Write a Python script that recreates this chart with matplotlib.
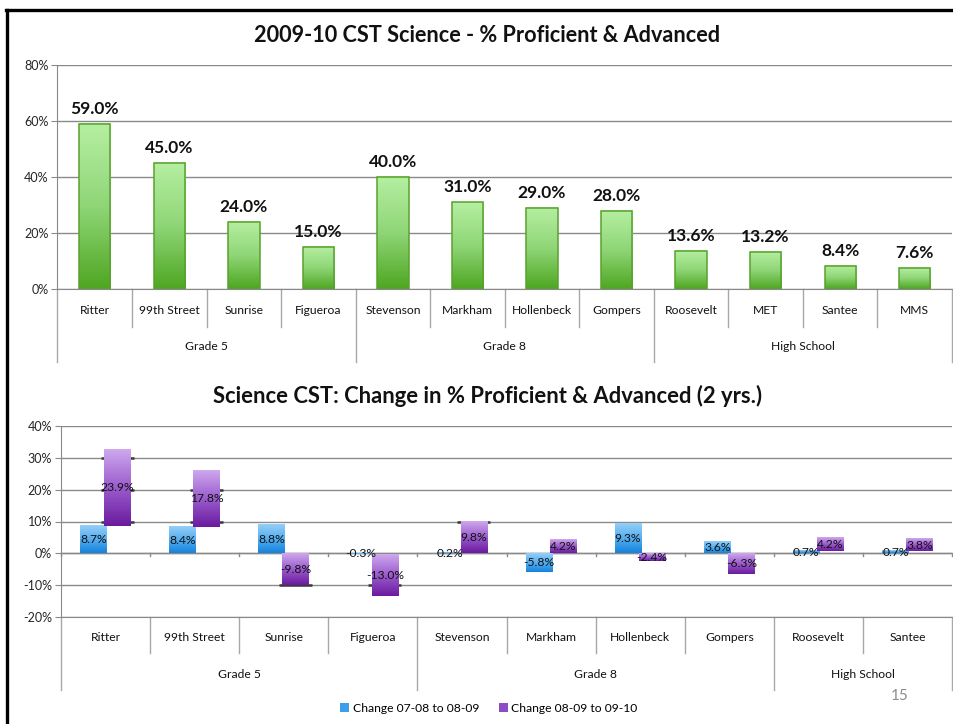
import numpy as np
import matplotlib
matplotlib.use('Agg')
import matplotlib.pyplot as plt
from matplotlib.colors import LinearSegmentedColormap
from matplotlib.lines import Line2D
from matplotlib.patches import Patch
from matplotlib.ticker import FuncFormatter, MultipleLocator

plt.rcParams['font.family'] = ['Lato', 'DejaVu Sans']

# ---------------- data ----------------
top_title = "2009-10 CST Science - % Proficient & Advanced"
top_schools = ['Ritter', '99th Street', 'Sunrise', 'Figueroa', 'Stevenson', 'Markham',
               'Hollenbeck', 'Gompers', 'Roosevelt', 'MET', 'Santee', 'MMS']
top_groups = ['Grade 5', 'Grade 8', 'High School']
top_group_sizes = [4, 4, 4]
top_values = [59.0, 45.0, 24.0, 15.0, 40.0, 31.0, 29.0, 28.0, 13.6, 13.2, 8.4, 7.6]

bot_title = "Science CST: Change in % Proficient & Advanced (2 yrs.)"
bot_schools = ['Ritter', '99th Street', 'Sunrise', 'Figueroa', 'Stevenson', 'Markham',
               'Hollenbeck', 'Gompers', 'Roosevelt', 'Santee']
bot_groups = ['Grade 5', 'Grade 8', 'High School']
bot_group_sizes = [4, 4, 2]
change_0708_0809 = [8.7, 8.4, 8.8, -0.3, 0.2, -5.8, 9.3, 3.6, 0.7, 0.7]
change_0809_0910 = [23.9, 17.8, -9.8, -13.0, 9.8, 4.2, -2.4, -6.3, 4.2, 3.8]
series_names = ['Change 07-08 to 08-09', 'Change 08-09 to 09-10']

# ---------------- style ----------------
GRID = '#8a8a8a'
SEP = '#a8a8a8'
green_cmap = LinearSegmentedColormap.from_list('g', ['#4ea621', '#8fd677', '#b6efa2'])
blue_cmap = LinearSegmentedColormap.from_list('b', ['#1483dc', '#55aef0', '#95cff8'])
purple_cmap = LinearSegmentedColormap.from_list('p', ['#6a1a9e', '#9a5ccc', '#cfa8ee'])

W, H = 954, 724
fig = plt.figure(figsize=(W / 100, H / 100), dpi=100)
fig.patch.set_facecolor('white')


def fx(px):
    return px / W


def fy(py):
    return 1 - py / H


def grad_fill(ax, bars, cmap, z):
    g = np.linspace(0, 1, 256).reshape(-1, 1)
    for b in bars:
        x0, y0 = b.get_x(), b.get_y()
        w, h = b.get_width(), b.get_height()
        if h == 0:
            continue
        lo, hi = min(y0, y0 + h), max(y0, y0 + h)
        ax.imshow(g, extent=[x0, x0 + w, lo, hi], origin='lower', cmap=cmap,
                  aspect='auto', zorder=z, interpolation='bilinear')


def category_axis(ax, names, group_names, group_sizes, cat_depth, grp_depth,
                  cat_label_y, grp_label_y, fs):
    n = len(names)
    tr = ax.get_xaxis_transform()
    bounds_grp = np.concatenate([[0], np.cumsum(group_sizes)])
    for k in range(n + 1):
        depth = grp_depth if k in bounds_grp else cat_depth
        ax.plot([k - 0.5, k - 0.5], [0, -depth], transform=tr, clip_on=False,
                color=SEP, lw=1)
    for i, nm in enumerate(names):
        ax.text(i, -cat_label_y, nm, transform=tr, ha='center', va='center',
                fontsize=fs, color='#111111')
    for g, nm in enumerate(group_names):
        c = (bounds_grp[g] + bounds_grp[g + 1]) / 2 - 0.5
        ax.text(c, -grp_label_y, nm, transform=tr, ha='center', va='center',
                fontsize=fs, color='#111111')


def style_axes(ax):
    for s in ['top', 'right']:
        ax.spines[s].set_visible(False)
    ax.spines['left'].set_color(GRID)
    ax.spines['bottom'].set_color(GRID)
    ax.set_xticks([])
    ax.yaxis.set_major_formatter(FuncFormatter(lambda v, p: f'{v:.0f}%'))
    ax.tick_params(axis='y', length=4, color=GRID, labelsize=9,
                   labelcolor='#262626', pad=2.5)
    ax.yaxis.grid(True, color=GRID, lw=1)
    ax.set_axisbelow(True)
    ax.patch.set_alpha(0)


# ---------------- top chart ----------------
ax1 = fig.add_axes([fx(57.5), fy(289.3), fx(952 - 57.5), (289.3 - 65) / H])
x1 = np.arange(len(top_schools))
bars1 = ax1.bar(x1, top_values, width=0.42, facecolor='none',
                edgecolor='#58a22e', lw=1.1, zorder=3)
grad_fill(ax1, bars1, green_cmap, 2.5)
for xi, v in zip(x1, top_values):
    ax1.annotate(f'{v:.1f}%', (xi, v), xytext=(0, 5), textcoords='offset points',
                 ha='center', va='bottom', fontsize=12.5, fontweight='bold',
                 color='#111111')
ax1.set_xlim(-0.5, len(top_schools) - 0.5)
ax1.set_ylim(0, 80)
ax1.yaxis.set_major_locator(MultipleLocator(20))
style_axes(ax1)
category_axis(ax1, top_schools, top_groups, top_group_sizes,
              cat_depth=(327 - 289.3) / 224.3, grp_depth=(362 - 289.3) / 224.3,
              cat_label_y=(311 - 289.3) / 224.3, grp_label_y=(347 - 289.3) / 224.3,
              fs=8.7)
fig.text(fx(487), fy(35), top_title, ha='center', va='center', fontsize=15.6,
         fontweight='bold', color='#111111')

# ---------------- bottom chart ----------------
ax2 = fig.add_axes([fx(61), fy(617.3), fx(952 - 61), (617.3 - 425.7) / H])
x2 = np.arange(len(bot_schools))
a = np.array(change_0708_0809)
b = np.array(change_0809_0910)
base_b = np.where(np.sign(a) == np.sign(b), a, 0.0)
off, bw = 0.135, 0.3
bars_a = ax2.bar(x2 - off, a, width=bw, facecolor='#4aa8ee', edgecolor='none', zorder=2)
bars_b = ax2.bar(x2 + off, b, width=bw, bottom=base_b, facecolor='#9a5ccc',
                 edgecolor='none', zorder=2)
for bar in list(bars_a) + list(bars_b):
    bar.set_alpha(0)
grad_fill(ax2, bars_a, blue_cmap, 2.6)
grad_fill(ax2, bars_b, purple_cmap, 2.7)

# dark gridline marks showing through at purple bar edges
for xi, lo_v, hi_v in zip(x2 + off, np.minimum(base_b, base_b + b), np.maximum(base_b, base_b + b)):
    for gv in range(-20, 41, 10):
        if gv != 0 and lo_v - 0.35 <= gv <= hi_v + 0.35:
            ax2.plot([xi - bw / 2 - 0.035, xi + bw / 2 + 0.035], [gv, gv],
                     color='#3a3a3a', lw=1.8, zorder=2.55, solid_capstyle='butt')

for xi, v in zip(x2 - off, a):
    ax2.text(xi, v / 2, f'{v:.1f}%', ha='center', va='center', fontsize=8.7,
             color='#111111', zorder=5)
for xi, v, bs in zip(x2 + off, b, base_b):
    ax2.text(xi, bs + v / 2, f'{v:.1f}%', ha='center', va='center', fontsize=8.7,
             color='#111111', zorder=5)

ax2.set_xlim(-0.5, len(bot_schools) - 0.5)
ax2.set_ylim(-20, 40)
ax2.yaxis.set_major_locator(MultipleLocator(10))
style_axes(ax2)
ax2.axhline(0, color=GRID, lw=1, zorder=1.5)
for k in range(len(bot_schools) + 1):
    ax2.plot([k - 0.5, k - 0.5], [0, -0.9], color=GRID, lw=1, zorder=1.5, clip_on=False)
category_axis(ax2, bot_schools, bot_groups, bot_group_sizes,
              cat_depth=(653 - 617.3) / 191.6, grp_depth=(690 - 617.3) / 191.6,
              cat_label_y=(637.7 - 617.3) / 191.6, grp_label_y=(675 - 617.3) / 191.6,
              fs=8.7)
fig.text(fx(487.5), fy(396), bot_title, ha='center', va='center', fontsize=15.8,
         fontweight='bold', color='#111111')

handles = [Patch(facecolor='#3d9fea', edgecolor='none'),
           Patch(facecolor='#8d4cc4', edgecolor='none')]
fig.legend(handles, series_names, loc='center', bbox_to_anchor=(fx(489), fy(708)),
           ncol=2, frameon=False, fontsize=8.7, handlelength=0.75, handleheight=0.75,
           handletextpad=0.3, columnspacing=1.6)

fig.text(fx(900), fy(696), '15', ha='center', va='center', fontsize=11, color='#8c8c8c')

# slide border
fig.add_artist(Line2D([fx(7.5), fx(7.5)], [0, fy(10)], color='black', lw=2.4,
                      transform=fig.transFigure))
fig.add_artist(Line2D([fx(6.3), 1], [fy(10), fy(10)], color='black', lw=2.4,
                      transform=fig.transFigure))

fig.savefig('out.png', dpi=100, facecolor='white')
